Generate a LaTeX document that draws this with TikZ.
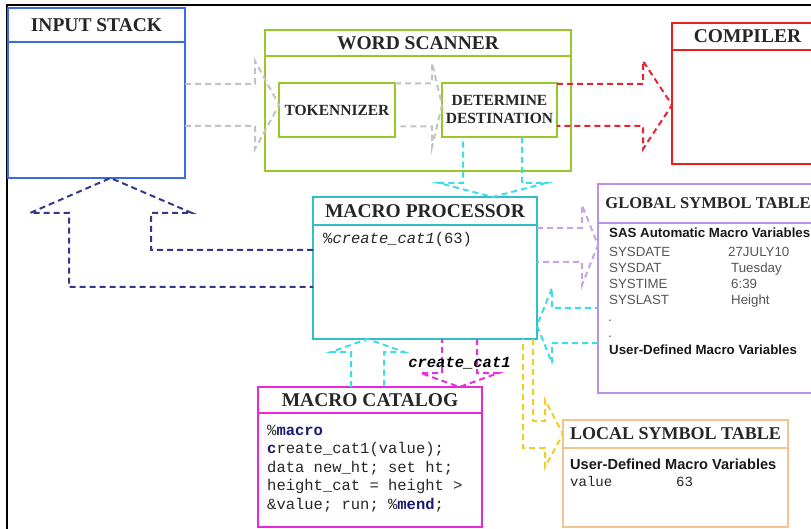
\documentclass[tikz,border=0pt]{standalone}
\usepackage{fontspec}
\setmainfont{Liberation Serif}
\setsansfont{Liberation Sans}
\setmonofont{Liberation Mono}
\usetikzlibrary{calc}

\definecolor{stackblue}{RGB}{60,105,230}
\definecolor{scangreen}{RGB}{150,200,40}
\definecolor{compred}{RGB}{235,30,30}
\definecolor{globpurple}{RGB}{185,145,235}
\definecolor{proccyan}{RGB}{50,190,195}
\definecolor{catmagenta}{RGB}{230,40,220}
\definecolor{locorange}{RGB}{245,195,145}
\definecolor{flowgray}{RGB}{195,195,195}
\definecolor{flowcyan}{RGB}{60,220,235}
\definecolor{flownavy}{RGB}{55,55,135}
\definecolor{flowyellow}{RGB}{240,205,40}
\definecolor{flowpurple}{RGB}{195,165,235}
\definecolor{flowred}{RGB}{230,35,50}
\definecolor{flowmagenta}{RGB}{230,50,220}
\definecolor{symgray}{RGB}{85,85,85}
\definecolor{kwnavy}{RGB}{25,25,115}

\def\boxline{2.4pt}
\def\flowline{2pt}

\tikzset{
    flow/.style={line width=\flowline, dash pattern=on 6pt off 4pt},
    paneltitle/.style={inner sep=0pt, font=\fontsize{19.5}{22}\selectfont\bfseries, text=black!85},
    innertitle/.style={draw=scangreen, line width=\boxline, outer sep=0pt, align=center,
        font=\fontsize{15.5}{18}\selectfont\bfseries, text=black!85},
    codetext/.style={inner sep=0pt, anchor=base west, font=\ttfamily\fontsize{15.5}{18}\selectfont, text=black!85},
    calllabel/.style={inner sep=0pt, font=\ttfamily\bfseries\itshape\fontsize{15.5}{18}\selectfont},
    symhead/.style={inner sep=0pt, anchor=base west, font=\sffamily\bfseries\fontsize{13.3}{16}\selectfont, text=black!90},
    symrow/.style={inner sep=0pt, anchor=base west, font=\sffamily\fontsize{13.3}{16}\selectfont, text=symgray},
}

% box with a header band: [title style] name, colour, left, top, right, bottom, header line, title
\newcommand{\panel}[9][]{
    \node[draw=#3, line width=\boxline, inner sep=0pt, outer sep=0pt,
          minimum width={(#6-#4)*1pt}, minimum height={(#7-#5)*1pt}]
        (#2) at ({(#4+#6)/2},{(#5+#7)/2}) {};
    \draw[#3, line width=\boxline] (#4,#8) -- (#6,#8);
    \node[paneltitle, #1] (#2-title) at ({(#4+#6)/2},{(#5+#8)/2}) {#9};
}

% open block arrow: tail, tip, half shaft, half head, head length
\newcommand{\blockarrow}[6][flowgray]{
    \coordinate (ba-h) at ($(#3)!#6pt!(#2)$);
    \draw[flow, #1]
        ($(#2)!#4pt!90:(#3)$) -- ($(ba-h)!#4pt!90:(#3)$) -- ($(ba-h)!#5pt!90:(#3)$)
        -- (#3) -- ($(ba-h)!#5pt!-90:(#3)$) -- ($(ba-h)!#4pt!-90:(#3)$) -- ($(#2)!#4pt!-90:(#3)$);
}

\begin{document}
\begin{tikzpicture}[x=1pt, y=-1pt]
    \useasboundingbox (0,0) rectangle (811,529);
    \clip (0,0) rectangle (811,529);
    \draw[line width=2.6pt] (7,529) -- (7,5) -- (811,5);

    \panel{stack}{stackblue}{8}{8}{185}{178}{42}{INPUT STACK}
    \panel{scan}{scangreen}{265}{30}{571}{171}{56}{WORD SCANNER}
    \panel{comp}{compred}{672}{23}{823}{164}{50}{COMPILER}
    \panel[font=\fontsize{16.5}{20}\selectfont\bfseries]{glob}{globpurple}{598}{184}{818}{393}{223}{GLOBAL SYMBOL TABLE}
    \panel{mp}{proccyan}{313}{197}{537}{339}{225}{MACRO PROCESSOR}
    \panel{cat}{catmagenta}{258}{387}{482}{527}{413}{MACRO CATALOG}
    \panel[font=\fontsize{18}{21}\selectfont\bfseries]{lsym}{locorange}{563}{420}{788}{527}{448}{LOCAL SYMBOL TABLE}

    \node[innertitle, minimum width=116pt, minimum height=54pt] (tok) at (337,110) {TOKENNIZER};
    \node[innertitle, minimum width=115pt, minimum height=54pt] (det) at (499.5,110) {DETERMINE\\DESTINATION};

    % contents
    \node[codetext] (mp-call) at (323,244) {\%\textit{create\_cat1}(63)};
    \foreach \ln [count=\i from 0] in {{\%\textcolor{kwnavy}{\textbf{macro}}},
            {\textcolor{kwnavy}{\textbf{c}}reate\_cat1(value);},
            {data new\_ht; set ht;},
            {height\_cat = height >},
            {\&value; run; \%\textcolor{kwnavy}{\textbf{mend}};}}
        \node[codetext] (cat-\i) at (267,{435+18.5*\i}) {\ln};

    \node[symhead] (glob-auto) at (609,238) {SAS Automatic Macro Variables};
    \foreach \nm/\val [count=\i from 0] in {SYSDATE/27JULY10, SYSDAT/Tuesday, SYSTIME/6:39, SYSLAST/Height}
    {
        \node[symrow] (glob-n\i) at (609,{257+16*\i}) {\nm};
        \node[symrow] (glob-v\i) at ({\i==0 ? 728 : 731},{257+16*\i}) {\val};
    }
    \node[symrow] (glob-d1) at (608,321) {.};
    \node[symrow] (glob-d2) at (608,337) {.};
    \node[symhead] (glob-user) at (609,354) {User-Defined Macro Variables};

    \node[symhead, font=\sffamily\bfseries\fontsize{14.6}{17}\selectfont] (loc-user) at (570,469) {User-Defined Macro Variables};
    \node[codetext, font=\ttfamily\fontsize{14}{17}\selectfont] (loc-n) at (570,486) {value};
    \node[codetext, font=\ttfamily\fontsize{14}{17}\selectfont] (loc-v) at (676,486) {63};

    % flows through the word scanner
    \coordinate (in-tip) at ([yshift=5pt]tok.west);
    \coordinate (in-tail) at (stack.east |- in-tip);
    \blockarrow{in-tail}{in-tip}{21}{44}{24}
    \coordinate (td-tail) at ([yshift=5pt]tok.east);
    \coordinate (td-tip) at ([yshift=5pt]det.west);
    \blockarrow{td-tail}{td-tip}{21.5}{42}{10}
    \coordinate (dc-tail) at ([yshift=5pt]det.east);
    \coordinate (dc-tip) at (comp.west |- dc-tail);
    \blockarrow[flowred]{dc-tail}{dc-tip}{21}{44}{29}
    \coordinate (dm-tail) at ([xshift=-7pt]det.south);
    \coordinate (dm-tip) at (mp.north -| dm-tail);
    \blockarrow[flowcyan]{dm-tail}{dm-tip}{29.5}{53.5}{14}

    % macro processor and symbol tables
    \coordinate (mg-tail) at ([yshift=23pt]mp.east);
    \coordinate (mg-tip) at (glob.west |- mg-tail);
    \blockarrow[flowpurple]{mg-tail}{mg-tip}{17}{40}{16}
    \coordinate (gm-tail) at ([yshift=-37pt]glob.west);
    \coordinate (gm-tip) at (mp.east |- gm-tail);
    \blockarrow[flowcyan]{gm-tail}{gm-tip}{17.5}{37.5}{15}

    % macro processor and catalog
    \coordinate (cm-tail) at ([xshift=-2.5pt]cat.north);
    \coordinate (cm-tip) at (mp.south -| cm-tail);
    \blockarrow[flowcyan]{cm-tail}{cm-tip}{16.5}{36.5}{13}
    \coordinate (mc-tail) at ([xshift=34.5pt]mp.south);
    \coordinate (mc-tip) at (cat.north -| mc-tail);
    \blockarrow[flowmagenta]{mc-tail}{mc-tip}{17.5}{39}{14}
    \node[calllabel] (call) at ($(mc-tail)!0.5!(mc-tip)$) {create\_cat1};

    % bent flows
    \draw[flow, flownavy] ([yshift=18pt]mp.west) -| (151,213) -- (192,213)
        -- ([xshift=14pt]stack.south) -- (30,213) -- (69,213) |- ([yshift=-19pt]mp.west);
    \coordinate (ly-tip) at ([yshift=39.5pt]lsym.west);
    \draw[flow, flowyellow] ([xshift=-4pt]mp.south east) |- (545,421) -- (545,400)
        -- (ly-tip) -- (545,467) -- (545,448) -| ([xshift=-14pt]mp.south east);
\end{tikzpicture}
\end{document}
